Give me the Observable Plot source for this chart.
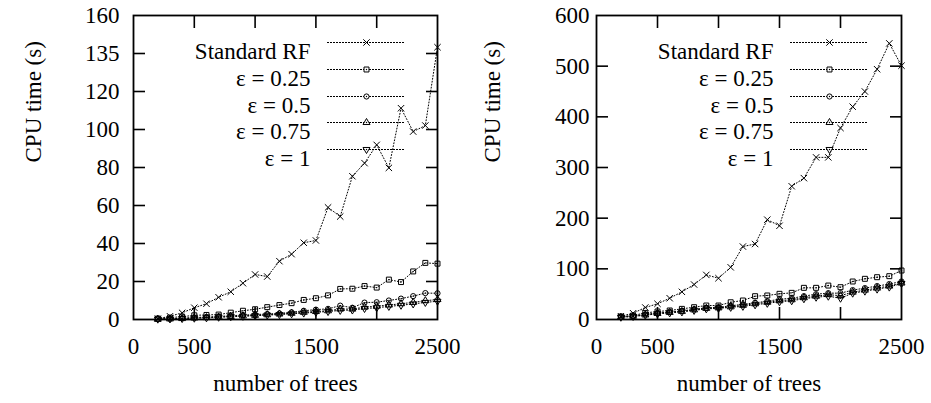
<!DOCTYPE html>
<html>
<head>
<meta charset="utf-8">
<script src="https://cdn.jsdelivr.net/npm/d3@7"></script>
<script src="https://cdn.jsdelivr.net/npm/@observablehq/plot@0.6"></script>
<style>
  html, body { margin: 0; padding: 0; background: white; }
  #wrap { display: flex; width: 931px; height: 403px; }
</style>
</head>
<body>
<div id="wrap"></div>
<script>
// ---- data ----
const trees = [200, 300, 400, 500, 600, 700, 800, 900, 1000, 1100, 1200, 1300,
               1400, 1500, 1600, 1700, 1800, 1900, 2000, 2100, 2200, 2300, 2400, 2500];

const seriesNames = ["Standard RF", "ε = 0.25", "ε = 0.5", "ε = 0.75", "ε = 1"];

// left panel (s)
const leftStd  = [0.4, 1.7, 3.5, 6.2, 8.3, 11.7, 14.6, 19.1, 23.7, 22.6, 30.7, 34.4,
                  40.4, 41.6, 59.0, 54.2, 75.4, 82.3, 91.9, 79.8, 111.2, 98.9, 102.1, 143.3];
const leftE025 = [0.5, 1.0, 1.5, 2.2, 2.4, 2.6, 3.6, 4.6, 5.4, 6.5, 7.6, 8.6,
                  10.3, 11.2, 12.7, 16.1, 16.2, 17.6, 16.8, 21.0, 19.7, 25.3, 29.8, 29.4];
const leftE05  = [0.2, 0.4, 0.7, 1.0, 1.3, 1.6, 2.0, 2.3, 2.6, 2.9, 3.2, 3.8,
                  4.6, 5.2, 5.6, 7.3, 6.2, 8.9, 9.1, 10.0, 11.0, 12.3, 13.9, 13.8];
const leftE075 = [0.2, 0.3, 0.5, 0.8, 1.0, 1.3, 1.6, 1.9, 2.2, 2.5, 2.9, 3.3,
                  3.8, 4.2, 4.6, 5.5, 5.5, 6.5, 7.0, 7.6, 8.3, 9.0, 9.9, 10.5];
const leftE1   = [0.2, 0.3, 0.5, 0.7, 0.9, 1.2, 1.5, 1.7, 2.0, 2.3, 2.6, 3.0,
                  3.4, 3.8, 4.2, 4.8, 5.0, 5.8, 6.2, 6.9, 7.5, 8.2, 9.0, 9.6];

// right panel (s)
const rightStd  = [6.5, 12.4, 23.7, 31, 42, 54.6, 69, 88, 81.5, 103, 144, 149,
                   197, 185, 263, 279, 320, 320, 378, 420, 450, 494, 545, 501];
const rightE025 = [5.9, 7.9, 13, 15.8, 17.8, 21, 24.3, 27.6, 27.6, 34, 37.5, 46,
                   47.4, 50.7, 52.6, 62.5, 62.5, 67, 63.8, 75, 80.3, 83.5, 85.5, 96.7];
const rightE05  = [5, 7, 10, 13, 15, 17, 20, 23, 24, 27, 30, 33,
                   36, 40, 42, 46, 50, 52, 52, 58, 62, 66, 70, 75];
const rightE075 = [4.5, 6.5, 9, 12, 14, 16, 19, 22, 23, 25, 28, 31,
                   34, 37, 39, 43, 46, 49, 47, 54, 58, 62, 66, 72];
const rightE1   = [4.5, 6, 8.5, 11, 13, 15, 18, 21, 22, 24, 26, 29,
                   32, 35, 37, 41, 44, 46, 42, 52, 56, 60, 64, 71];

// ticks
const xTickMarks  = [500, 1000, 1500, 2000];
const xTickLabels = [0, 500, 1500, 2500];
const leftYTicks  = [0, 20, 40, 60, 80, 100, 120, 140, 160];
const leftYLabels = ["0", "20", "40", "60", "80", "100", "120", "135", "160"];
const rightYTicks = [0, 100, 200, 300, 400, 500, 600];
const rightYLabels = ["0", "100", "200", "300", "400", "500", "600"];

// ---- symbols ----
const sqrt3 = Math.sqrt(3);
const triDown = {
  draw(context, size) {
    const y = -Math.sqrt(size / (sqrt3 * 3));
    context.moveTo(0, -y * 2);
    context.lineTo(-sqrt3 * y, y);
    context.lineTo(sqrt3 * y, y);
    context.closePath();
  }
};
const symbols = ["times", "square", "circle", "triangle", triDown];
const symR    = [3.0, 2.8, 2.6, 2.6, 2.6];
const centerDot = [false, true, true, true, true];

const FONT = "Liberation Serif";

function makePanel(values, yTicks, yLabels, opt) {
  const rows = [];
  values.forEach((arr, s) => arr.forEach((v, i) => rows.push({s, x: trees[i], y: v})));
  const marks = [];
  values.forEach((arr, s) => {
    const d = rows.filter(r => r.s === s);
    marks.push(Plot.line(d, {x: "x", y: "y", stroke: "black", strokeWidth: 1, strokeDasharray: "1,2"}));
    marks.push(Plot.dot(d, {x: "x", y: "y", symbol: symbols[s], r: symR[s], stroke: "black", strokeWidth: 1, fill: "none"}));
    if (centerDot[s]) marks.push(Plot.dot(d, {x: "x", y: "y", r: 0.7, fill: "black", stroke: "none"}));
  });
  // legend
  const rowY = [27, 54, 81, 107, 134];
  seriesNames.forEach((name, s) => {
    marks.push(Plot.text([name], {frameAnchor: "top-left", dx: 177, dy: rowY[s], textAnchor: "end", fontSize: 23, fontFamily: FONT, fill: "black"}));
    marks.push(Plot.frame({anchor: "top", insetTop: rowY[s], insetLeft: 194, insetRight: opt.legendRight, stroke: "black", strokeWidth: 1, strokeDasharray: "1,2"}));
    marks.push(Plot.dot([0], {frameAnchor: "top-left", dx: 233, dy: rowY[s], symbol: symbols[s], r: symR[s], stroke: "black", fill: "white", strokeWidth: 1}));
    if (centerDot[s]) marks.push(Plot.dot([0], {frameAnchor: "top-left", dx: 233, dy: rowY[s], r: 0.7, fill: "black", stroke: "none"}));
  });
  // tick labels
  marks.push(Plot.axisY(yTicks, {anchor: "left", tickSize: 0, tickPadding: opt.yPad, tickFormat: d => yLabels[yTicks.indexOf(d)], label: null, fontSize: 23, fontFamily: FONT}));
  marks.push(Plot.axisX(xTickLabels, {anchor: "bottom", tickSize: 0, tickPadding: 18, tickFormat: d => String(d), label: null, fontSize: 23, fontFamily: FONT}));
  // inward tick marks on all sides
  const tl = 12;
  marks.push(Plot.axisY(yTicks.slice(1, -1), {anchor: "left", tickSize: tl, dx: tl, fill: "none", label: null, strokeWidth: 1.6}));
  marks.push(Plot.axisY(yTicks.slice(1, -1), {anchor: "right", tickSize: tl, dx: -tl, fill: "none", label: null, strokeWidth: 1.6}));
  marks.push(Plot.axisX(xTickMarks, {anchor: "bottom", tickSize: tl, dy: -tl, fill: "none", label: null, strokeWidth: 1.6}));
  marks.push(Plot.axisX(xTickMarks, {anchor: "top", tickSize: tl, dy: tl, fill: "none", label: null, strokeWidth: 1.6}));
  marks.push(Plot.frame({stroke: "black", strokeWidth: 1.8}));
  // axis titles
  marks.push(Plot.text(["CPU time (s)"], {frameAnchor: "left", dx: -opt.titleOffset, dy: -5, rotate: -90, fontSize: 23, fontFamily: FONT, fill: "black"}));
  marks.push(Plot.text(["number of trees"], {frameAnchor: "bottom", dy: 71, fontSize: 23, fontFamily: FONT, fill: "black"}));

  return Plot.plot({
    width: opt.width,
    height: 403,
    marginLeft: opt.marginLeft,
    marginRight: opt.marginRight,
    marginTop: 15,
    marginBottom: 84,
    style: {fontFamily: FONT},
    x: {domain: [0, 2500]},
    y: {domain: [yTicks[0], yTicks[yTicks.length - 1]]},
    marks
  });
}

const wrap = document.getElementById("wrap");
const p1 = makePanel([leftStd, leftE025, leftE05, leftE075, leftE1], leftYTicks, leftYLabels,
  {width: 465, marginLeft: 133, marginRight: 28, yPad: 14, titleOffset: 100, legendRight: 34});
const p2 = makePanel([rightStd, rightE025, rightE05, rightE075, rightE1], rightYTicks, rightYLabels,
  {width: 466, marginLeft: 131, marginRight: 30, yPad: 7, titleOffset: 104, legendRight: 35});
wrap.appendChild(p1);
wrap.appendChild(p2);

// force the serif font to be resolved and laid out before the page is captured
let fontInfo = "";
[p1, p2].forEach(svg => svg.querySelectorAll("text").forEach(t => { fontInfo += getComputedStyle(t).fontFamily; }));
document.fonts.check("23px 'Liberation Serif'");
if (document.fonts && document.fonts.load) document.fonts.load("23px 'Liberation Serif'", "Standard RF ε 0123456789");
</script>
</body>
</html>
